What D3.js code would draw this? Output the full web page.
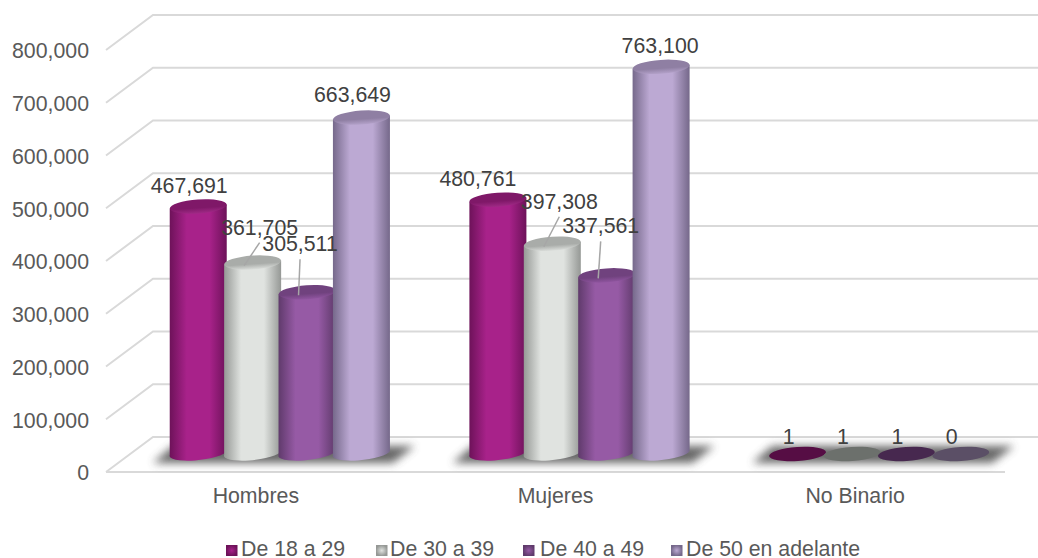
<!DOCTYPE html>
<html>
<head>
<meta charset="utf-8">
<script src="https://cdn.jsdelivr.net/npm/d3@7"></script>
<style>
  html, body { margin: 0; padding: 0; background: #fff; overflow: hidden; }
  text { font-family: "Liberation Sans", Arial, sans-serif; }
</style>
</head>
<body>
<div id="chart"></div>
<script>
const categories = ["Hombres", "Mujeres", "No Binario"];
const seriesNames = ["De 18 a 29", "De 30 a 39", "De 40 a 49", "De 50 en adelante"];
const hombres = [467691, 361705, 305511, 663649];
const mujeres = [480761, 397308, 337561, 763100];
const noBinario = [1, 1, 1, 0];
const yTicks = [0, 100000, 200000, 300000, 400000, 500000, 600000, 700000, 800000];

const seriesColors = [
    {edge: "#6d1259", mid: "#a8228a", top: "#7f1868", rim: "#a02a86", flat: "#560d44"},
    {edge: "#959895", mid: "#e0e3e0", top: "#a9aca9", rim: "#dcdfdc", flat: "#6c706c"},
    {edge: "#5f3a6b", mid: "#965aa5", top: "#70427e", rim: "#9055a0", flat: "#47284f"},
    {edge: "#75688a", mid: "#bca9d3", top: "#8f7fa3", rim: "#b5a3cb", flat: "#5b4f66"}
];

const W = 1038, H = 558;
const depth = {x: 47, y: 35};
const fontSize = "21.3px";

const svg = d3.select("#chart").append("svg")
    .attr("width", W).attr("height", H);
const defs = svg.append("defs");

// front wall of the 3d box
const y = d3.scaleLinear().domain([0, 800000]).range([472, 50]);
const x = d3.scaleBand().domain(categories).range([106, 1005]);

// bars sit in the middle of the floor and the 3d view squeezes the tall ones a bit
const barY = d3.scaleLinear()
    .domain([0, 480000, 665000, 800000])
    .range([454, 200, 117, 48]);

const barX = d3.scaleBand().domain(d3.range(4)).range([0, 217.6]);
const barW = 57;
const barShift = 24;

seriesColors.forEach(function (c, i) {
    const g = defs.append("linearGradient").attr("id", "cyl" + i);
    g.append("stop").attr("offset", "0%").attr("stop-color", c.edge);
    g.append("stop").attr("offset", "30%").attr("stop-color", c.mid);
    g.append("stop").attr("offset", "70%").attr("stop-color", c.mid);
    g.append("stop").attr("offset", "100%").attr("stop-color", c.edge);

    const t = defs.append("linearGradient").attr("id", "cap" + i)
        .attr("x1", 0).attr("x2", 0).attr("y1", 0).attr("y2", 1);
    t.append("stop").attr("offset", "0%").attr("stop-color", c.top);
    t.append("stop").attr("offset", "60%").attr("stop-color", c.top);
    t.append("stop").attr("offset", "100%").attr("stop-color", c.rim);

    const m = defs.append("radialGradient").attr("id", "mark" + i);
    m.append("stop").attr("offset", "0%").attr("stop-color", c.mid);
    m.append("stop").attr("offset", "100%").attr("stop-color", c.edge);
});
defs.append("filter").attr("id", "blur")
    .attr("x", "-20%").attr("y", "-100%").attr("width", "140%").attr("height", "300%")
    .append("feGaussianBlur").attr("stdDeviation", 4);

// grid
const grid = svg.append("g").attr("fill", "none").attr("stroke", "#d9d9d9").attr("stroke-width", 2);
yTicks.forEach(function (t) {
    grid.append("path").attr("d", d3.line()([
        [x.range()[0], y(t)],
        [x.range()[0] + depth.x, y(t) - depth.y],
        [W, y(t) - depth.y]
    ]));
});
grid.append("line")
    .attr("x1", x.range()[0]).attr("x2", x.range()[1])
    .attr("y1", y(0)).attr("y2", y(0));

// axes
const yAxis = svg.append("g")
    .attr("transform", "translate(97,1)")
    .call(d3.axisLeft(y).tickValues(yTicks).tickSize(0).tickPadding(8).tickFormat(d3.format(",")));
const xAxis = svg.append("g")
    .attr("transform", "translate(0," + y(0) + ")")
    .call(d3.axisBottom(x).tickSize(0).tickPadding(16));
[yAxis, xAxis].forEach(function (a) {
    a.select(".domain").remove();
    a.selectAll("text").attr("fill", "#595959").style("font-size", fontSize);
});

function rowStart(r) {
    return x(categories[r]) + barShift + (x.bandwidth() - barX.range()[1]) / 2;
}

// floor shadows
const rows = [hombres, mujeres, noBinario];
rows.forEach(function (row, r) {
    const x0 = rowStart(r);
    const base = barY(0);
    svg.append("path")
        .attr("d", d3.line()([
            [x0 - 18, base + 9], [x0 + 2, base - 8],
            [x0 + barX.range()[1] + 26, base - 8], [x0 + barX.range()[1] + 4, base + 9]
        ]))
        .attr("fill", "#4d4d4d").attr("opacity", 0.85).attr("filter", "url(#blur)");
});

// cylinders
const ry = 8.5;
rows.forEach(function (row, r) {
    const x0 = rowStart(r);
    row.forEach(function (v, i) {
        const left = x0 + barX(i) + (barX.bandwidth() - barW) / 2;
        const cx = left + barW / 2;
        const topY = barY(v), baseY = barY(0);
        const g = svg.append("g");
        const c = seriesColors[i];
        const flat = baseY - topY < 1;
        if (!flat) {
            g.append("path")
                .attr("d", "M" + left + "," + (topY + 2) +
                    "L" + left + "," + (baseY + 1) +
                    "A" + (barW / 2) + "," + (ry - 1.5) + " -6 0 0 " + (left + barW) + "," + (baseY - 3) +
                    "L" + (left + barW) + "," + (topY - 2) + "Z")
                .attr("fill", "url(#cyl" + i + ")");
        }
        g.append("ellipse")
            .attr("cx", cx).attr("cy", topY).attr("rx", barW / 2).attr("ry", ry - 1.5)
            .attr("transform", "rotate(-4 " + cx + " " + topY + ")")
            .attr("fill", flat ? c.flat : "url(#cap" + i + ")");
    });
});

// data labels, with the offsets office gave the ones it moved
const labelShift = [
    [[-9, -14], [7, -28], [-7, -41], [-9, -16]],
    [[-20, -14], [7, -35], [-6, -42], [-1, -14]],
    [[-9, -10], [-9, -10], [-9, -10], [-9, -10]]
];
const leaders = [[0, 1], [0, 2], [1, 1], [1, 2]];
function labelPos(r, i) {
    const cx = rowStart(r) + barX(i) + barX.bandwidth() / 2;
    const s = labelShift[r][i];
    return {cx: cx, top: barY(rows[r][i]), x: cx + s[0], y: barY(rows[r][i]) + s[1]};
}
leaders.forEach(function (l) {
    const p = labelPos(l[0], l[1]);
    svg.append("line")
        .attr("x1", p.x).attr("y1", p.y + 8)
        .attr("x2", p.cx - 8.5).attr("y2", p.top + 3)
        .attr("stroke", "#a6a6a6").attr("stroke-width", 1.5);
});
rows.forEach(function (row, r) {
    row.forEach(function (v, i) {
        const p = labelPos(r, i);
        svg.append("text")
            .attr("x", p.x).attr("y", p.y)
            .attr("text-anchor", "middle")
            .attr("fill", "#404040").style("font-size", fontSize)
            .text(d3.format(",")(v));
    });
});

// legend
const legendItems = [[226, 241], [376, 390], [523, 540], [671, 686]];
const legend = svg.append("g");
seriesNames.forEach(function (name, i) {
    legend.append("rect")
        .attr("x", legendItems[i][0]).attr("y", 545).attr("width", 11.5).attr("height", 11)
        .attr("fill", "url(#mark" + i + ")");
    legend.append("text")
        .attr("x", legendItems[i][1]).attr("y", 556)
        .attr("fill", "#595959").style("font-size", fontSize)
        .text(name);
});
</script>
</body>
</html>
